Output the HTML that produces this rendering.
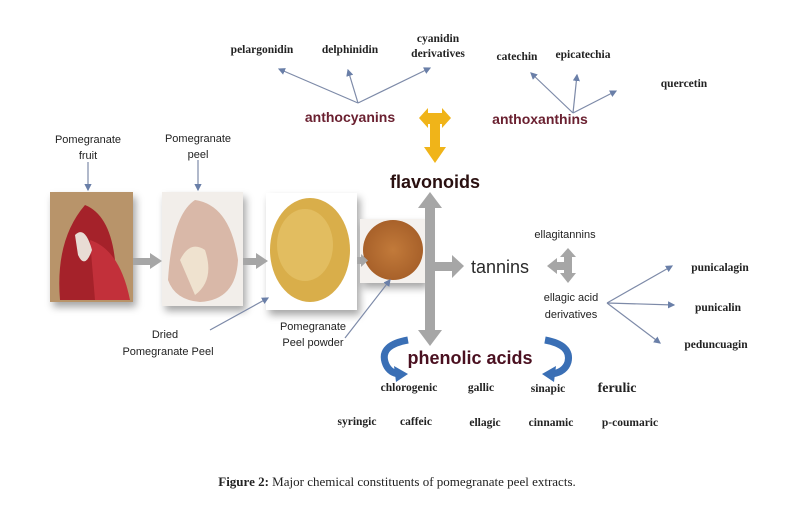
<!DOCTYPE html>
<html><head><meta charset="utf-8"><style>
html,body{margin:0;padding:0;background:#fff;}
svg{display:block;}
.s{font-family:"Liberation Sans",sans-serif;}
.r{font-family:"Liberation Serif",serif;font-weight:bold;}
</style></head><body>
<svg width="794" height="520" viewBox="0 0 794 520" xmlns="http://www.w3.org/2000/svg">
<defs>
<marker id="a" markerWidth="6" markerHeight="6" refX="5" refY="3" orient="auto"><path d="M0,0 L6,3 L0,6z" fill="#6a7fa8"/></marker>
<radialGradient id="pw" cx="50%" cy="50%" r="50%"><stop offset="0" stop-color="#c27a3a"/><stop offset="1" stop-color="#a8612a"/></radialGradient>
<filter id="sh" x="-20%" y="-20%" width="150%" height="150%"><feDropShadow dx="3" dy="5" stdDeviation="4" flood-color="#000" flood-opacity="0.35"/></filter>
</defs>
<g filter="url(#sh)">
<rect x="50" y="192" width="83" height="110" fill="#b8946a"/>
<rect x="162" y="192" width="81" height="114" fill="#f2eeea"/>
<rect x="266" y="193" width="91" height="117" fill="#fff"/>
<rect x="360" y="219" width="65" height="64" fill="#f4f1ee"/>
</g>
<path d="M60,300 Q55,240 85,205 Q110,215 115,260 Q120,295 100,300z" fill="#a5222a"/>
<path d="M90,240 Q120,250 130,300 L95,300z" fill="#c2303a"/>
<path d="M75,235 Q85,225 92,250 Q85,270 78,255z" fill="#e8dcd4"/>
<path d="M168,280 Q172,215 195,200 Q230,205 238,260 Q236,300 200,302 Q175,300 168,280z" fill="#d9b8a8"/>
<path d="M180,260 Q190,240 205,250 Q215,280 195,295z" fill="#efe2cf"/>
<ellipse cx="310" cy="250" rx="40" ry="52" fill="#d9ae4a"/>
<ellipse cx="305" cy="245" rx="28" ry="36" fill="#e4c165" opacity="0.8"/>
<circle cx="393" cy="250" r="30" fill="url(#pw)"/>
<g fill="#a6a6a6">
<rect x="133" y="258" width="20" height="7"/><path d="M150,253 L162,261 L150,269z"/>
<rect x="243" y="258" width="15" height="7"/><path d="M256,253 L268,261 L256,269z"/>
<rect x="357" y="257" width="6" height="7"/><path d="M361,254 L368,260.5 L361,267z"/>
<rect x="425" y="205" width="10" height="128"/>
<path d="M418,208 L430,192 L442,208z"/><path d="M418,330 L430,346 L442,330z"/>
<rect x="433" y="262" width="22" height="9"/><path d="M452,255 L464,266 L452,278z"/>
<path d="M547,266 L557,258 L557,262 L564,262 L564,257 L560,257 L568,248 L576,257 L572,257 L572,273 L576,273 L568,283 L560,273 L564,273 L564,270 L557,270 L557,274z"/>
</g>
<path d="M419,118 L428,108 L428,113 L442,113 L442,108 L451,118 L442,128 L442,124 L440,124 L440,147 L446,147 L435,163 L424,147 L430,147 L430,124 L428,124 L428,128z" fill="#f0b419"/>
<path d="M408,340 Q380,345 385,362 Q388,372 398,374" fill="none" stroke="#3a6fb5" stroke-width="7"/>
<path d="M394,366 L408,374 L396,382z" fill="#3a6fb5"/>
<path d="M545,340 Q572,345 568,362 Q565,372 552,374" fill="none" stroke="#3a6fb5" stroke-width="7"/>
<path d="M556,366 L542,374 L554,382z" fill="#3a6fb5"/>
<g stroke="#7d8aa8" stroke-width="1.2" fill="none" marker-end="url(#a)">
<line x1="358" y1="103" x2="279" y2="69"/><line x1="358" y1="103" x2="348" y2="70"/><line x1="358" y1="103" x2="430" y2="68"/>
<line x1="573" y1="113" x2="531" y2="73"/><line x1="573" y1="113" x2="577" y2="75"/><line x1="573" y1="113" x2="616" y2="91"/>
<line x1="607" y1="303" x2="672" y2="266"/><line x1="607" y1="303" x2="674" y2="305"/><line x1="607" y1="303" x2="660" y2="343"/>
<line x1="88" y1="162" x2="88" y2="190"/><line x1="198" y1="160" x2="198" y2="190"/>
<line x1="210" y1="330" x2="268" y2="298"/><line x1="345" y1="338" x2="390" y2="280"/>
</g>
<g class="s" font-size="11" fill="#222" text-anchor="middle">
<text x="88" y="143">Pomegranate</text><text x="88" y="159">fruit</text>
<text x="198" y="142">Pomegranate</text><text x="198" y="158">peel</text>
<text x="165" y="338">Dried</text><text x="168" y="355">Pomegranate Peel</text>
<text x="313" y="330">Pomegranate</text><text x="313" y="346">Peel powder</text>
<text x="565" y="238">ellagitannins</text>
<text x="571" y="301">ellagic acid</text><text x="571" y="318">derivatives</text>
</g>
<g class="s" text-anchor="middle" fill="#5a1522">
<text x="350" y="122" font-size="14" font-weight="bold" fill="#6a2030">anthocyanins</text>
<text x="540" y="124" font-size="14" font-weight="bold" fill="#6a2030">anthoxanthins</text>
<text x="435" y="188" font-size="18" font-weight="bold" fill="#2a1010">flavonoids</text>
<text x="500" y="273" font-size="18" fill="#2a2a2a">tannins</text>
<text x="470" y="364" font-size="18" font-weight="bold" fill="#4a1020">phenolic acids</text>
</g>
<g class="r" font-size="11.5" fill="#222" text-anchor="middle">
<text x="262" y="53">pelargonidin</text><text x="350" y="53">delphinidin</text>
<text x="438" y="42">cyanidin</text><text x="438" y="57">derivatives</text>
<text x="517" y="60">catechin</text><text x="583" y="58">epicatechia</text>
<text x="684" y="87">quercetin</text>
<text x="720" y="271">punicalagin</text><text x="718" y="311">punicalin</text><text x="716" y="348">peduncuagin</text>
<text x="409" y="391">chlorogenic</text><text x="481" y="391">gallic</text><text x="548" y="392">sinapic</text>
<text x="617" y="392" font-size="14">ferulic</text>
<text x="357" y="425">syringic</text><text x="416" y="425">caffeic</text><text x="485" y="426">ellagic</text>
<text x="551" y="426">cinnamic</text><text x="630" y="426">p-coumaric</text>
</g>
<text x="397" y="486" text-anchor="middle" font-family="Liberation Serif,serif" font-size="13" fill="#222"><tspan font-weight="bold">Figure 2:</tspan> Major chemical constituents of pomegranate peel extracts.</text>
</svg>
</body></html>
